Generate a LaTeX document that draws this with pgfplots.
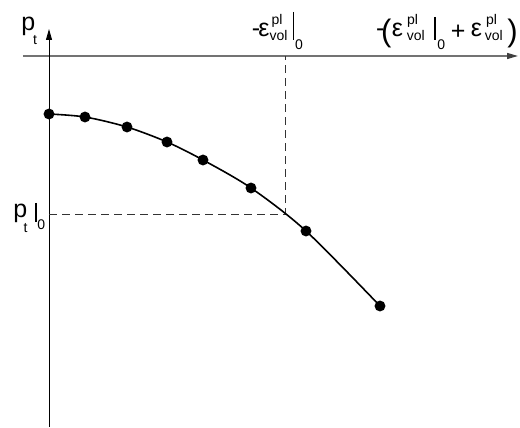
\documentclass[border=0pt]{standalone}
\usepackage{pgfplots}
\pgfplotsset{compat=1.18}
\usetikzlibrary{arrows.meta}
\usepackage{fontspec}
\setmainfont{Liberation Sans}
\newcommand\bigf{\fontsize{25}{25}\selectfont}
\newcommand\smf{\fontsize{14}{14}\selectfont}
\newcommand\parf{\fontsize{31}{31}\selectfont}
\tikzset{lbl/.style={inner sep=0pt, outer sep=0pt, anchor=base west}}

\begin{document}
\begin{tikzpicture}
\begin{axis}[
    x=1pt, y=1pt,
    xmin=-26, xmax=469,
    ymin=-371, ymax=27,
    axis lines=middle,
    xtick=\empty, ytick=\empty,
    clip=false,
    x axis line style={draw=black!55, line width=1.4pt,
        -{Triangle[length=11pt,width=6pt,color=black!75]}},
    y axis line style={draw=black, line width=0.9pt,
        -{Triangle[length=11pt,width=6pt]}},
]
    % dashed guides to the point on the curve
    \addplot[draw=black!80, line width=0.8pt, dash pattern=on 8pt off 5pt]
        coordinates {(0,-158) (236,-158) (236,0)};
    % curve through the measured points
    \addplot[black, line width=1.6pt, smooth, mark=*, mark size=4.6pt,
        mark options={fill=black, solid}]
        coordinates {
        (0,-58)
        (36,-61)
        (78,-71)
        (118,-86)
        (154,-104)
        (202,-132)
        (257,-175)
        (331,-250)
    };

    % bounding box of the whole figure
    \path (axis cs:-49,56) rectangle (axis cs:471,-372);

    % y axis label p_t
    \node[lbl, font=\bigf] at (axis cs:-27.6,25) {p\kern-2.3pt\raisebox{-14pt}{\smf t}};
    % p_t|_0
    \node[lbl, font=\bigf] at (axis cs:-35.6,-162) {p\kern-3.6pt\raisebox{-15pt}{\smf t}};
    \draw[line width=1.7pt] (axis cs:-13,-147) -- (axis cs:-13,-166);
    \node[lbl, font=\smf] at (axis cs:-11.6,-174) {0};
    % -eps_vol^pl|_0
    \node[lbl, font=\bigf] at (axis cs:202.9,19) {-\kern-2pt ε};
    \node[lbl, font=\smf] at (axis cs:220.5,15) {vol};
    \node[lbl, font=\smf] at (axis cs:222.6,31) {pl};
    \draw[line width=1.7pt] (axis cs:244.5,44) -- (axis cs:244.5,16);
    \node[lbl, font=\smf] at (axis cs:246,6) {0};
    % -(eps_vol^pl|_0 + eps_vol^pl)
    \node[lbl, font=\bigf] at (axis cs:327,19) {-\kern-3.3pt\raisebox{-4.5pt}{\parf (}};
    \node[lbl, font=\bigf] at (axis cs:342.8,19) {ε};
    \node[lbl, font=\smf] at (axis cs:357.9,15) {vol};
    \node[lbl, font=\smf] at (axis cs:358.1,31) {pl};
    \draw[line width=1.7pt] (axis cs:386,39) -- (axis cs:386,16);
    \node[lbl, font=\smf] at (axis cs:388.4,6) {0};
    \node[lbl, font=\bigf] at (axis cs:401.8,16.2) {+};
    \node[lbl, font=\bigf] at (axis cs:421.8,19) {ε};
    \node[lbl, font=\smf] at (axis cs:435.9,15) {vol};
    \node[lbl, font=\smf] at (axis cs:437.1,31) {pl};
    \node[lbl, font=\parf] at (axis cs:458.3,14.5) {)};
\end{axis}
\end{tikzpicture}
\end{document}
